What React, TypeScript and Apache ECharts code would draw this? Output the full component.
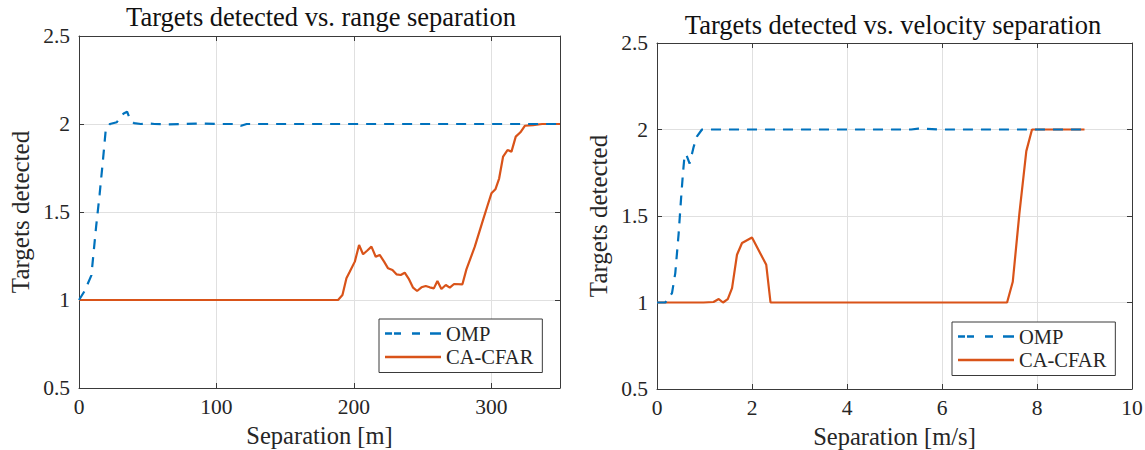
import React, { useEffect, useRef } from 'react';
import * as echarts from 'echarts';

// ---- data ----
const rangeOmp: [number, number][] = [
  [0, 1.0], [4, 1.05], [9, 1.14], [12.5, 1.42], [15, 1.6], [17.5, 1.8], [19.5, 1.97],
  [22.5, 2.0], [27.5, 2.01], [30, 2.04], [32.5, 2.06], [35, 2.07], [37.5, 2.02], [40, 2.005],
  [45, 2.0], [50, 2.003], [55, 2.0], [65, 1.998], [75, 2.0], [85, 2.002], [90, 2.003],
  [100, 2.0], [115, 2.0], [118, 1.99], [122, 2.0], [150, 2.0], [200, 2.0], [250, 2.0],
  [300, 2.0], [325, 2.0], [350, 2.0],
];
const rangeCfar: [number, number][] = [
  [0, 1.0], [100, 1.0], [188.5, 1.0], [191.7, 1.028], [194.6, 1.123], [197, 1.16],
  [200.7, 1.218], [203.8, 1.3125], [206.7, 1.26], [209.6, 1.28], [212.8, 1.303],
  [215.9, 1.246], [218.8, 1.256], [222, 1.218], [224.9, 1.18], [228.1, 1.17], [231, 1.146],
  [234.1, 1.142], [237, 1.155], [240.2, 1.117], [243.1, 1.07], [246, 1.051], [249.2, 1.072],
  [252.3, 1.08], [255.2, 1.072], [258.2, 1.066], [260.8, 1.108], [263.7, 1.0625],
  [266.9, 1.085], [269.8, 1.07], [272.9, 1.091], [279, 1.089], [281.9, 1.174], [288, 1.303],
  [294, 1.455], [297, 1.53], [300.1, 1.606], [303, 1.629], [305.7, 1.69], [308.6, 1.815],
  [311.8, 1.852], [314.7, 1.843], [317.8, 1.928], [321.2, 1.953], [324.4, 1.99],
  [330.4, 1.994], [337, 2.0], [350, 2.0],
];
const velOmp: [number, number][] = [
  [0, 1.0], [0.175, 1.0], [0.316, 1.054], [0.385, 1.17], [0.456, 1.4], [0.505, 1.595],
  [0.547, 1.749], [0.582, 1.855], [0.617, 1.855], [0.687, 1.803], [0.737, 1.86],
  [0.772, 1.9], [0.842, 1.96], [0.947, 2.0], [1.5, 2.0], [3, 2.0], [5.35, 2.0], [5.5, 2.005],
  [6, 2.0], [7.5, 2.0], [9, 2.0],
];
const velCfar: [number, number][] = [
  [0, 1.0], [0.98, 1.0], [1.19, 1.003], [1.3, 1.02], [1.39, 1.0], [1.49, 1.02],
  [1.58, 1.083], [1.684, 1.276], [1.79, 1.344], [2.0, 1.376], [2.3, 1.218], [2.39, 1.0],
  [5, 1.0], [7.37, 1.0], [7.49, 1.12], [7.63, 1.517], [7.775, 1.875], [7.895, 2.0], [9, 2.0],
];

const seriesNames = ['OMP', 'CA-CFAR'];
const titles = ['Targets detected vs. range separation', 'Targets detected vs. velocity separation'];
const xNames = ['Separation [m]', 'Separation [m/s]'];
const yName = 'Targets detected';

const FONT = 'Liberation Serif';
const BLUE = '#0072BD';
const ORANGE = '#D95319';
const AXIS = '#3a3a3a';
const TEXT = '#262626';
const GRIDC = '#e0e0e0';

const DASH_ICON = 'path://M0,0H7V2.4H0Z M9,0H16V2.4H9Z M27,0H35V2.4H27Z M45,0H56V2.4H45Z';
const SOLID_ICON = 'path://M0,0H56V2.4H0Z';

function xAxisMain(gridIndex: number, min: number, max: number, interval: number, name: string, hideMax: boolean) {
  return {
    type: 'value', gridIndex, min, max, interval, position: 'bottom',
    name, nameLocation: 'middle', nameGap: 31,
    nameTextStyle: { fontFamily: FONT, fontSize: 24.5, color: TEXT, lineHeight: 26 },
    axisLine: { show: true, onZero: false, lineStyle: { color: AXIS, width: 1 } },
    axisTick: { show: true, inside: true, length: 5, lineStyle: { color: AXIS } },
    axisLabel: { fontFamily: FONT, fontSize: 21.5, color: TEXT, margin: 8, showMaxLabel: !hideMax, showMinLabel: true },
    splitLine: { show: true, lineStyle: { color: GRIDC, width: 1 } },
  };
}
function xAxisTop(gridIndex: number, min: number, max: number, interval: number) {
  return {
    type: 'value', gridIndex, min, max, interval, position: 'top',
    axisLine: { show: true, onZero: false, lineStyle: { color: AXIS, width: 1 } },
    axisTick: { show: true, inside: true, length: 5, lineStyle: { color: AXIS } },
    axisLabel: { show: false }, splitLine: { show: false },
  };
}
function yAxisMain(gridIndex: number) {
  return {
    type: 'value', gridIndex, min: 0.5, max: 2.5, interval: 0.5, position: 'left',
    name: yName, nameLocation: 'middle', nameGap: 46, nameRotate: 90,
    nameTextStyle: { fontFamily: FONT, fontSize: 25, color: TEXT },
    axisLine: { show: true, onZero: false, lineStyle: { color: AXIS, width: 1 } },
    axisTick: { show: true, inside: true, length: 5, lineStyle: { color: AXIS } },
    axisLabel: { fontFamily: FONT, fontSize: 21.5, color: TEXT, margin: 9 },
    splitLine: { show: true, lineStyle: { color: GRIDC, width: 1 } },
  };
}
function yAxisRight(gridIndex: number) {
  return {
    type: 'value', gridIndex, min: 0.5, max: 2.5, interval: 0.5, position: 'right',
    axisLine: { show: true, onZero: false, lineStyle: { color: AXIS, width: 1 } },
    axisTick: { show: true, inside: true, length: 5, lineStyle: { color: AXIS } },
    axisLabel: { show: false }, splitLine: { show: false },
  };
}

function lineSeries(name: string, data: [number, number][], axisIdx: number, color: string, dashed: boolean) {
  return {
    name, type: 'line', data, xAxisIndex: axisIdx, yAxisIndex: axisIdx,
    symbol: 'none', showSymbol: false, smooth: false,
    lineStyle: { color, width: 2.2, type: dashed ? [10, 8] : 'solid' },
    itemStyle: { color },
    z: dashed ? 4 : 3,
  };
}

function legendAt(left: number, top: number) {
  return {
    orient: 'vertical', left, top,
    data: [
      { name: seriesNames[0], icon: DASH_ICON },
      { name: seriesNames[1], icon: SOLID_ICON },
    ],
    itemWidth: 56, itemHeight: 2.4, itemGap: 2.5,
    itemStyle: { borderWidth: 0 },
    backgroundColor: '#ffffff', borderColor: AXIS, borderWidth: 1, borderRadius: 0,
    padding: [4, 9, 5, 6],
    textStyle: { fontFamily: FONT, fontSize: 20.5, color: TEXT, lineHeight: 21 },
    selectedMode: false,
  };
}

export default function App() {
  const ref = useRef<HTMLDivElement>(null);
  useEffect(() => {
    document.body.style.margin = '0';
    const chart = echarts.init(ref.current!, null, { renderer: 'svg' });
    chart.setOption({
      animation: false,
      backgroundColor: '#ffffff',
      textStyle: { fontFamily: FONT },
      title: [
        { text: titles[0], left: 321, top: 3, padding: 0, textAlign: 'center', textStyle: { fontFamily: FONT, fontSize: 26.5, fontWeight: 'normal', color: '#111' } },
        { text: titles[1], left: 893, top: 11, padding: 0, textAlign: 'center', textStyle: { fontFamily: FONT, fontSize: 26.5, fontWeight: 'normal', color: '#111' } },
      ],
      grid: [
        { left: 79, top: 36, width: 481, height: 352, outerBoundsMode: 'none', containLabel: false },
        { left: 657, top: 43, width: 475, height: 346, outerBoundsMode: 'none', containLabel: false },
      ],
      xAxis: [
        xAxisMain(0, 0, 350, 100, xNames[0], true),
        xAxisMain(1, 0, 10, 2, xNames[1], false),
        xAxisTop(0, 0, 350, 100),
        xAxisTop(1, 0, 10, 2),
      ],
      yAxis: [
        yAxisMain(0),
        yAxisMain(1),
        yAxisRight(0),
        yAxisRight(1),
      ],
      legend: [legendAt(379, 319), legendAt(952, 322)],
      series: [
        lineSeries(seriesNames[1], rangeCfar, 0, ORANGE, false),
        lineSeries(seriesNames[0], rangeOmp, 0, BLUE, true),
        lineSeries(seriesNames[1], velCfar, 1, ORANGE, false),
        lineSeries(seriesNames[0], velOmp, 1, BLUE, true),
      ],
    });
    return () => chart.dispose();
  }, []);
  return <div ref={ref} style={{ width: 1145, height: 450 }} />;
}
